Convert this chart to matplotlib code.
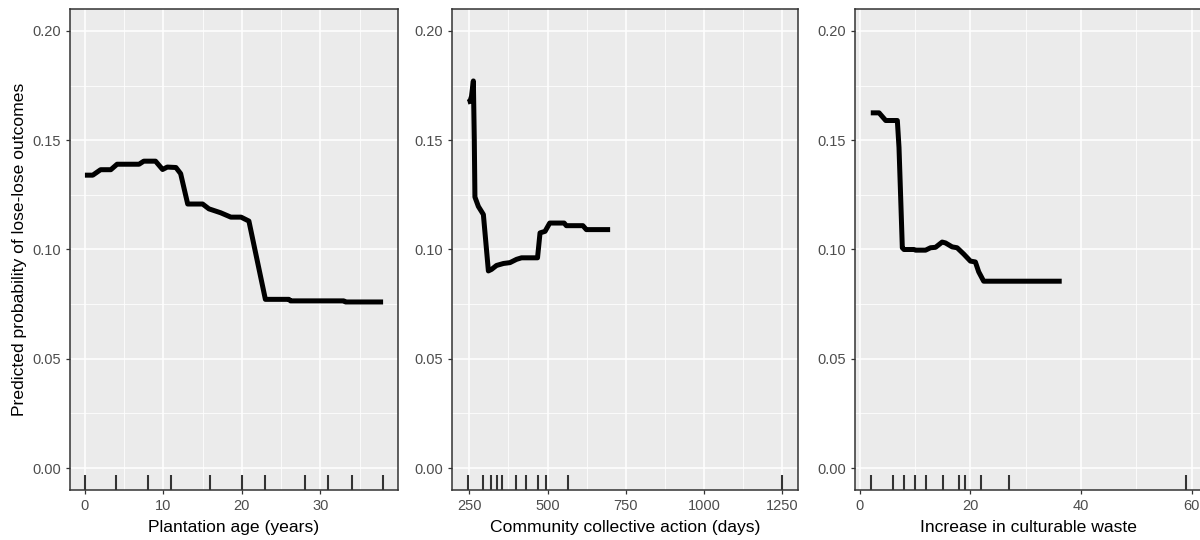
import numpy as np
import matplotlib
matplotlib.use("Agg")
import matplotlib.pyplot as plt
from matplotlib.ticker import FixedLocator, FormatStrFormatter

plt.rcParams['font.family'] = ['Liberation Sans', 'DejaVu Sans']

# === DONNEES : dependance partielle (lecture du graphique) ===
age_x = [0, 1.0, 2.0, 3.3, 4.1, 6.9, 7.5, 9.0, 9.9, 10.5, 11.6, 12.2, 13.1, 15.0,
         15.8, 17.3, 18.6, 19.9, 20.9, 23.0, 26.0, 26.2, 33.0, 33.2, 38.0]
age_y = [0.134, 0.134, 0.1365, 0.1365, 0.139, 0.139, 0.1404, 0.1404, 0.1366, 0.1377,
         0.1375, 0.1347, 0.1208, 0.1208, 0.1186, 0.1168, 0.1148, 0.1148, 0.113, 0.0772,
         0.0772, 0.0765, 0.0765, 0.076, 0.076]
age_rug = [0, 4, 8, 11, 16, 20, 23, 28, 31, 34, 38]

days_x = [245, 252, 257, 263, 266, 268, 279, 289, 295, 311, 321, 337, 359, 380, 401,
          417, 468, 476, 492, 507, 553, 560, 613, 624, 700]
days_y = [0.1674, 0.1677, 0.170, 0.1771, 0.150, 0.124, 0.1197, 0.1174, 0.116, 0.0902,
          0.0909, 0.0927, 0.0936, 0.0940, 0.0955, 0.0962, 0.0962, 0.1076, 0.1083, 0.1121,
          0.1121, 0.1109, 0.1109, 0.1091, 0.1091]
days_rug = [245, 295, 320, 340, 355, 400, 430, 470, 495, 565, 1250]

waste_x = [2, 3.5, 4.7, 6.8, 7.1, 7.4, 7.7, 8.0, 9.8, 10.1, 11.9, 12.8, 13.7, 14.9,
           15.5, 16.7, 17.6, 18.8, 20.0, 20.9, 21.5, 22.4, 36.5]
waste_y = [0.1625, 0.1625, 0.159, 0.159, 0.1467, 0.124, 0.1008, 0.100, 0.100, 0.0997,
           0.0997, 0.1008, 0.101, 0.1034, 0.1030, 0.1012, 0.1008, 0.0979, 0.0947, 0.0943,
           0.0898, 0.0855, 0.0855]
waste_rug = [2, 6, 8, 10, 12, 15, 18, 19, 22, 27, 59]

panels = [
    (age_x, age_y, age_rug, "Plantation age (years)", [0, 10, 20, 30], [5, 15, 25, 35]),
    (days_x, days_y, days_rug, "Community collective action (days)",
     [250, 500, 750, 1000, 1250], [375, 625, 875, 1125]),
    (waste_x, waste_y, waste_rug, "Increase in culturable waste", [0, 20, 40, 60], [10, 30, 50]),
]

# positions en fraction de figure (la derniere deborde un peu a droite)
positions = [
    [70 / 1200, 50 / 540, 328 / 1200, 481 / 540],
    [452 / 1200, 50 / 540, 346 / 1200, 481 / 540],
    [855 / 1200, 50 / 540, 347 / 1200, 481 / 540],
]

fig = plt.figure(figsize=(12, 5.4), dpi=100)

for i, (x, y, rug, xlabel, major, minor) in enumerate(panels):
    ax = fig.add_axes(positions[i])
    ax.set_facecolor("#EBEBEB")

    lo, hi = min(rug + x), max(rug + x)
    pad = 0.05 * (hi - lo)
    ax.set_xlim(lo - pad, hi + pad)
    ax.set_ylim(-0.01, 0.21)

    ax.xaxis.set_major_locator(FixedLocator(major))
    ax.xaxis.set_minor_locator(FixedLocator(minor))
    ax.yaxis.set_major_locator(FixedLocator([0, 0.05, 0.10, 0.15, 0.20]))
    ax.yaxis.set_minor_locator(FixedLocator([0.025, 0.075, 0.125, 0.175]))
    ax.yaxis.set_major_formatter(FormatStrFormatter("%.2f"))

    ax.grid(which="major", color="white", linewidth=1.1)
    ax.grid(which="minor", color="white", linewidth=0.55)
    ax.set_axisbelow(True)

    ax.plot(x, y, color="black", linewidth=3.6, solid_joinstyle="round",
            solid_capstyle="butt", zorder=3)
    ax.vlines(rug, 0, 0.031, transform=ax.get_xaxis_transform(),
              color="#333333", linewidth=1.5, zorder=3)

    for s in ax.spines.values():
        s.set_color("#333333")
        s.set_linewidth(1.1)

    ax.tick_params(which="major", direction="out", length=2.6, width=0.9,
                   color="#333333", labelcolor="#4D4D4D", labelsize=10.5)
    ax.tick_params(axis="x", which="major", pad=4.2)
    ax.tick_params(axis="y", which="major", pad=3.8)
    ax.tick_params(which="minor", length=0)
    ax.set_xlabel(xlabel, fontsize=12.6, color="black", labelpad=5)
    if i == 0:
        ax.set_ylabel("Predicted probability of lose-lose outcomes", fontsize=12.6,
                      color="black", labelpad=4)

fig.savefig("out.png", dpi=100)
